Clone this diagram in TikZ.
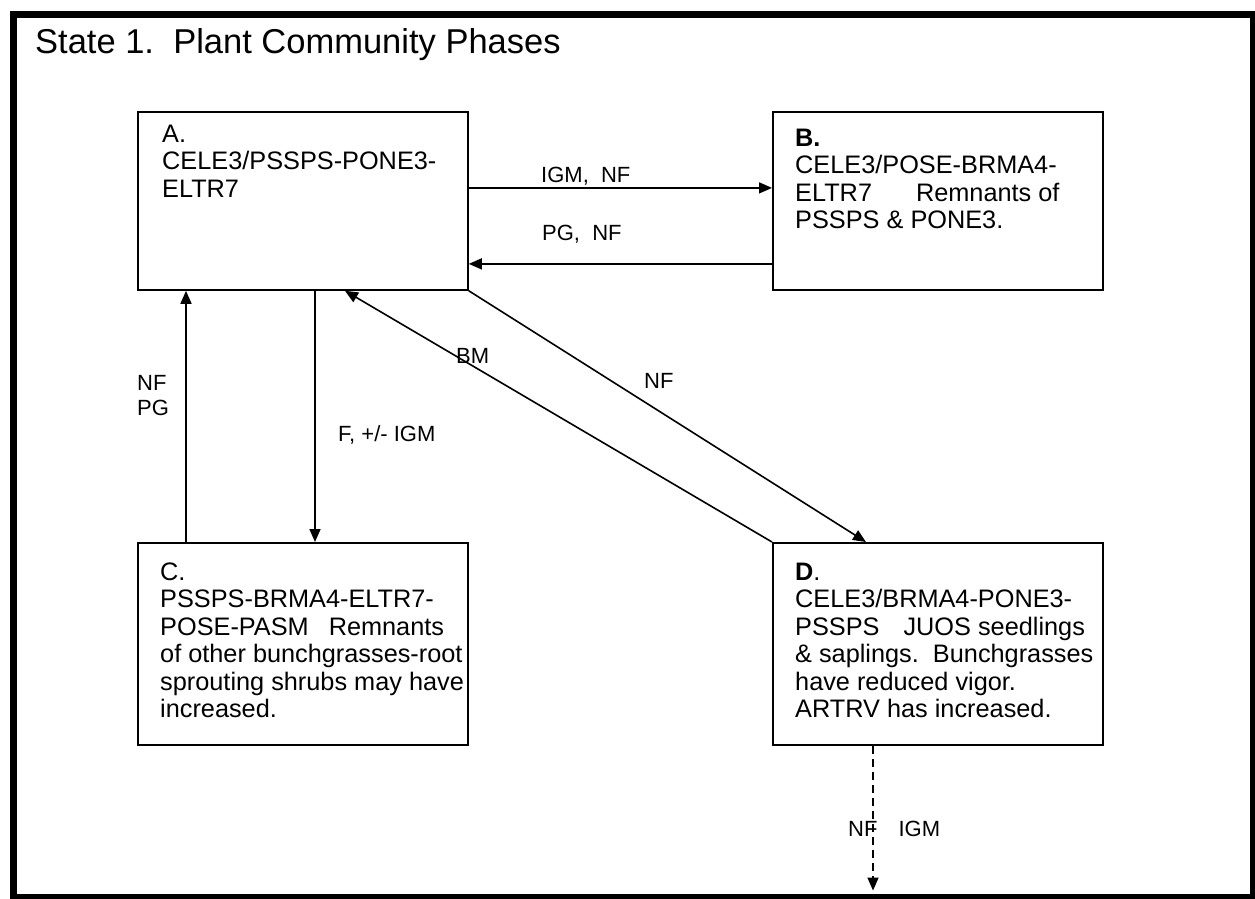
\documentclass[tikz,border=0pt]{standalone}
\usepackage{fontspec}
\setmainfont{Liberation Sans}
\usetikzlibrary{arrows.meta}
\begin{document}
\begin{tikzpicture}[x=1pt,y=-1pt,
  phasebox/.style={draw=black, line width=1.8pt, minimum width=330pt, inner sep=0pt, anchor=north west},
  boxtext/.style={anchor=base west, align=left, inner sep=0pt, font=\fontsize{25.3}{27.5}\selectfont},
  lab/.style={anchor=base west, align=left, inner sep=0pt, font=\fontsize{22}{25}\selectfont},
  arr/.style={line width=1.6pt, -{Triangle[length=13pt,width=11pt]}},
  dasharr/.style={arr, dash pattern=on 8pt off 5pt},
]
\fill[white] (0,0) rectangle (1255,899);
\useasboundingbox (0,0) rectangle (1255,899);
\node[draw, line width=7pt, minimum width=1240pt, minimum height=883pt, inner sep=0pt, anchor=north west] (frame) at (10,11) {};
\node[anchor=base west, inner sep=0pt, font=\fontsize{34.5}{40}\selectfont] (title) at (35,53) {State 1.\ \ Plant Community Phases};

% boxes
\node[phasebox, minimum height=178pt] (A) at (137,111) {};
\node[phasebox, minimum height=178pt] (B) at (772,111) {};
\node[phasebox, minimum height=202pt] (C) at (137,542) {};
\node[phasebox, minimum height=202pt] (D) at (772,542) {};

% text anchored at baseline of last line
\node[boxtext] (At) at (162,197) {A.\\CELE3/PSSPS-PONE3-\\ELTR7};
\node[boxtext] (Bt) at (795,228.5) {\textbf{B.}\\CELE3/POSE-BRMA4-\\ELTR7\hspace{44pt}Remnants of\\PSSPS \& PONE3.};
\node[boxtext] (Ct) at (160,717.5) {C.\\PSSPS-BRMA4-ELTR7-\\POSE-PASM\hspace{20pt}Remnants\\of other bunchgrasses-root\\sprouting shrubs may have\\increased.};
\node[boxtext] (Dt) at (795,717.5) {\textbf{D}.\\CELE3/BRMA4-PONE3-\\PSSPS\hspace{24pt}JUOS seedlings\\\&\ saplings.\ \ Bunchgrasses\\have reduced vigor.\\ARTRV has increased.};

% connectors
\draw[arr] ([yshift=13pt]A.east) -- ([yshift=13pt]B.west);
\draw[arr] ([yshift=-63pt]B.west) -- ([yshift=-63pt]A.west -| A.east);
\draw[arr] ([xshift=49pt]C.north west) -- ([xshift=49pt]A.south west);
\draw[arr] ([xshift=178pt]A.south west) -- ([xshift=178pt]C.north west);
\draw[arr] (D.north west) -- ([xshift=208pt]A.south west);
\draw[arr] (A.south east) -- ([xshift=94pt]D.north west);
\coordinate (dEnd) at (873,890.5);
\draw[dasharr] (D.south -| dEnd) -- (dEnd);

% labels
\node[lab] (l1) at (541,182) {IGM,\ \ NF};
\node[lab] (l2) at (542,240) {PG,\ \ NF};
\node[lab] (l3) at (137,415) {NF\\PG};
\node[lab] (l4) at (338,441) {F, +/- IGM};
\node[lab] (l5) at (456,363) {BM};
\node[lab] (l6) at (644,388) {NF};
\node[lab] (l7) at (848,836) {NF\hspace{21pt}IGM};
\end{tikzpicture}
\end{document}
